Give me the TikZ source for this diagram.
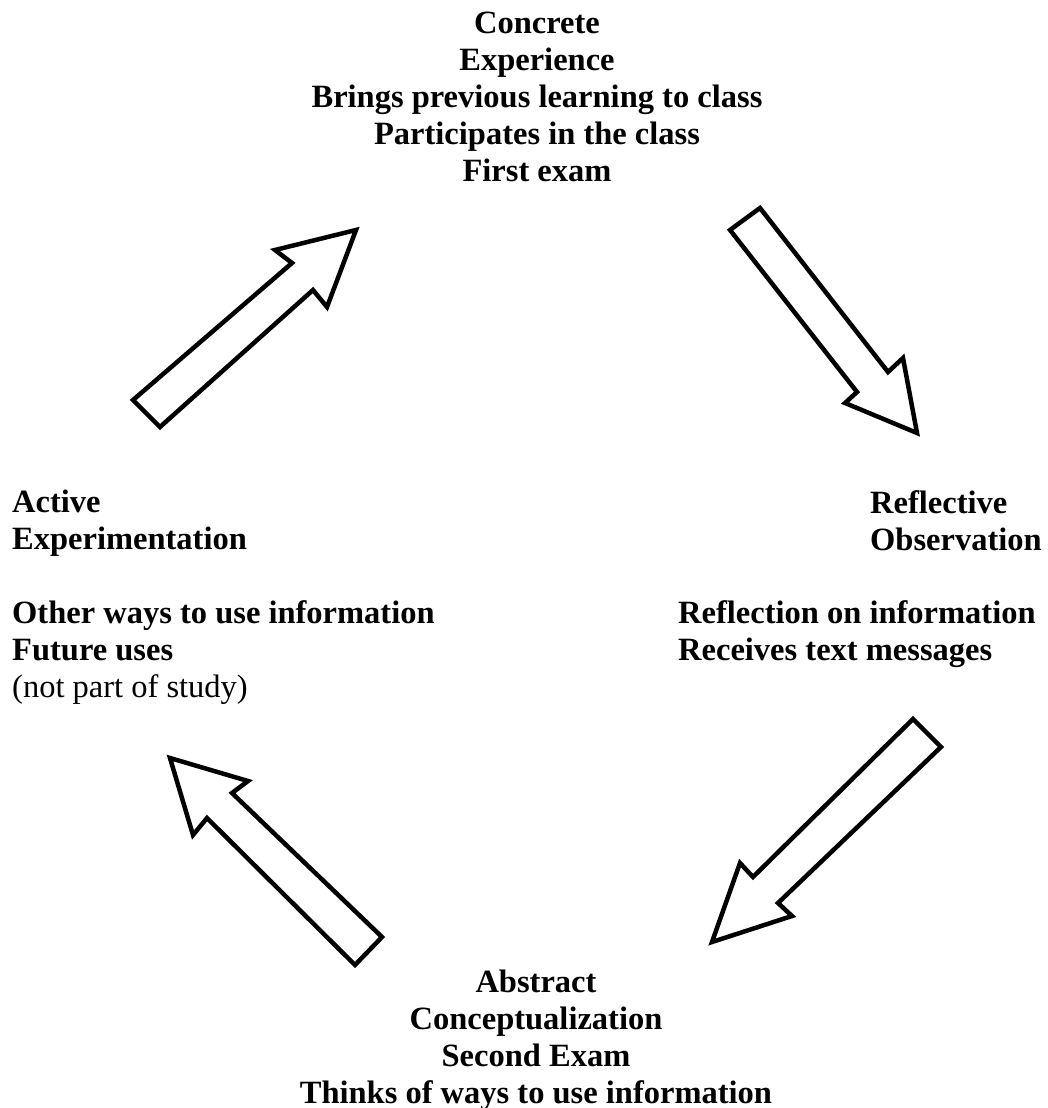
\documentclass[tikz,border=0pt]{standalone}
\usepackage{fontspec}
\setmainfont{Liberation Serif}
\begin{document}
\begin{tikzpicture}[x=1pt,y=-1pt,
  lbl/.style={inner sep=0pt, font=\fontsize{32.5}{37}\selectfont\bfseries},
  blockarrow/.style={draw=black, line width=4.5pt, line join=miter, fill=white}]
\useasboundingbox (0,0) rectangle (1048,1108);
% text blocks (base anchor = baseline of the last line)
\node[lbl, align=center, anchor=base] (ce) at (537,181)
  {Concrete\\Experience\\Brings previous learning to class\\Participates in the class\\First exam};
\node[lbl, align=left, anchor=base west] (ro) at (870,550)
  {Reflective\\Observation};
\node[lbl, align=left, anchor=base west] (rod) at (678,660)
  {Reflection on information\\Receives text messages};
\node[lbl, align=center, anchor=base] (ac) at (536,1103)
  {Abstract\\Conceptualization\\Second Exam\\Thinks of ways to use information};
\node[lbl, align=left, anchor=base west] (ae) at (12,697)
  {Active\\Experimentation\\[37pt]Other ways to use information\\Future uses\\{\mdseries (not part of study)}};
% block arrows
\draw[blockarrow] (133,400) -- (160,427) -- (313,290) -- (327,307) -- (356,230) -- (275,250) -- (292,263) -- cycle;
\draw[blockarrow] (730,230) -- (760,208) -- (888,372) -- (903,358) -- (917,433) -- (845,403) -- (857,392) -- cycle;
\draw[blockarrow] (913,719) -- (941,747) -- (778,903) -- (792,916) -- (712,942) -- (740,863) -- (753,877) -- cycle;
\draw[blockarrow] (382,937) -- (355,965) -- (207,818) -- (193,835) -- (170,758) -- (248,781) -- (232,793) -- cycle;
\end{tikzpicture}
\end{document}
